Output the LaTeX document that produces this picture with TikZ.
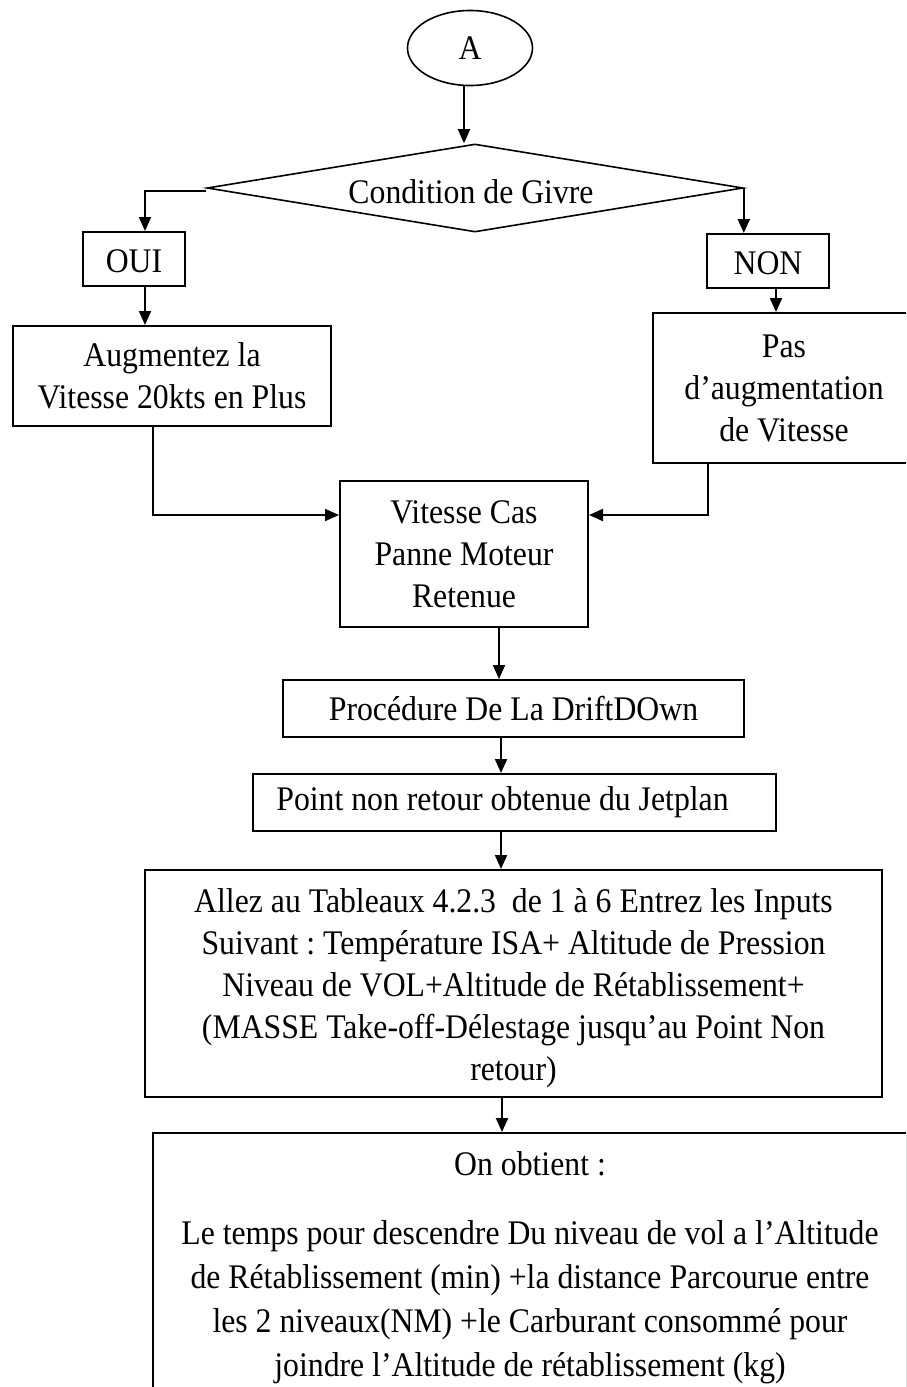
\documentclass[tikz,border=0pt]{standalone}
\usepackage{fontspec}
\setmainfont[FakeStretch=0.92]{Liberation Serif}
\usetikzlibrary{shapes.geometric,arrows.meta}
\frenchspacing
\newcommand\boxfont{\fontsize{34.5}{42}\selectfont}
\newcommand\widefont{\fontsize{34.5}{44}\selectfont}
\tikzset{
  box/.style={draw, rectangle, line width=2pt, inner sep=0pt, align=center, font=\boxfont},
  arr/.style={line width=2pt, -{Triangle[width=12pt,length=14pt]}},
}
\begin{document}
\begin{tikzpicture}[x=1pt,y=-1pt]
\useasboundingbox (0,0) rectangle (906,1387);
\fill[white] (0,0) rectangle (906,1387);
\clip (0,0) rectangle (906,1387);

% start terminal and decision
\node[draw, ellipse, line width=1.6pt, minimum width=125pt, minimum height=75pt, inner sep=0pt, font=\boxfont] (A) at (470,48) {A};
\node[draw, diamond, line width=1.6pt, minimum width=536pt, minimum height=88pt, inner sep=0pt] (givre) at (475,188) {};
\node[font=\boxfont, inner sep=0pt] (givretxt) at (471,192) {Condition de Givre};

% branches
\node[box, minimum width=102pt, minimum height=54pt] (oui) at (134,259) {\rule{0pt}{27pt}OUI};
\node[box, minimum width=122pt, minimum height=54pt] (non) at (768,261) {\rule{0pt}{27pt}NON};
\node[box, minimum width=318pt, minimum height=100pt] (aug) at (172,376) {Augmentez la\\Vitesse 20kts en Plus};
\node[box, minimum width=262pt, minimum height=150pt] (pas) at (784,388) {Pas\\d’augmentation\\de Vitesse};

% main sequence
\node[box, minimum width=248pt, minimum height=146pt] (vcas) at (464,554) {Vitesse Cas\\Panne Moteur\\Retenue};
\node[box, minimum width=461pt, minimum height=57pt] (proc) at (513.5,708.5) {Procédure De La DriftDOwn};
\node[box, minimum width=523pt, minimum height=57pt] (pnr) at (514.5,802.5) {Point non retour obtenue du Jetplan\hspace*{24pt}};
\node[box, minimum width=737pt, minimum height=227pt] (allez) at (513.5,983.5) {\rule{0pt}{34pt}Allez au Tableaux 4.2.3\ \ de 1 à 6 Entrez les Inputs\\Suivant : Température ISA+ Altitude de Pression\\Niveau de VOL+Altitude de Rétablissement+\\(MASSE Take-off-Délestage jusqu’au Point Non\\retour)};
\node[box, font=\widefont, anchor=north, minimum width=754pt, minimum height=270pt] (obt) at (530,1132) {On obtient :\\[25pt]Le temps pour descendre Du niveau de vol a l’Altitude\\de Rétablissement (min) +la distance Parcourue entre\\les 2 niveaux(NM) +le Carburant consommé pour\\joindre l’Altitude de rétablissement (kg)};

% connectors
\draw[arr] ([xshift=-6pt]A.south) -- ([xshift=-6pt]A.south |- givre.north);
\draw[arr] ([yshift=-3pt]givre.west) -| ([xshift=11pt]oui.north);
\draw[arr] (givre.east) -- (givre.east |- non.north);
\draw[arr] ([xshift=11pt]oui.south) -- ([xshift=11pt]oui.south |- aug.north);
\draw[arr] ([xshift=8pt]non.south) -- ([xshift=8pt]non.south |- pas.north);
\draw[arr] ([xshift=-19pt]aug.south) |- ([yshift=39pt]vcas.west);
\draw[arr] ([xshift=-76pt]pas.south) |- ([yshift=39pt]vcas.east);
\draw[arr] ([xshift=35pt]vcas.south) -- ([xshift=35pt]vcas.south |- proc.north);
\draw[arr] ([xshift=-12.5pt]proc.south) -- ([xshift=-12.5pt]proc.south |- pnr.north);
\draw[arr] ([xshift=-13.5pt]pnr.south) -- ([xshift=-13.5pt]pnr.south |- allez.north);
\draw[arr] ([xshift=-11.5pt]allez.south) -- ([xshift=-11.5pt]allez.south |- obt.north);
\end{tikzpicture}
\end{document}
